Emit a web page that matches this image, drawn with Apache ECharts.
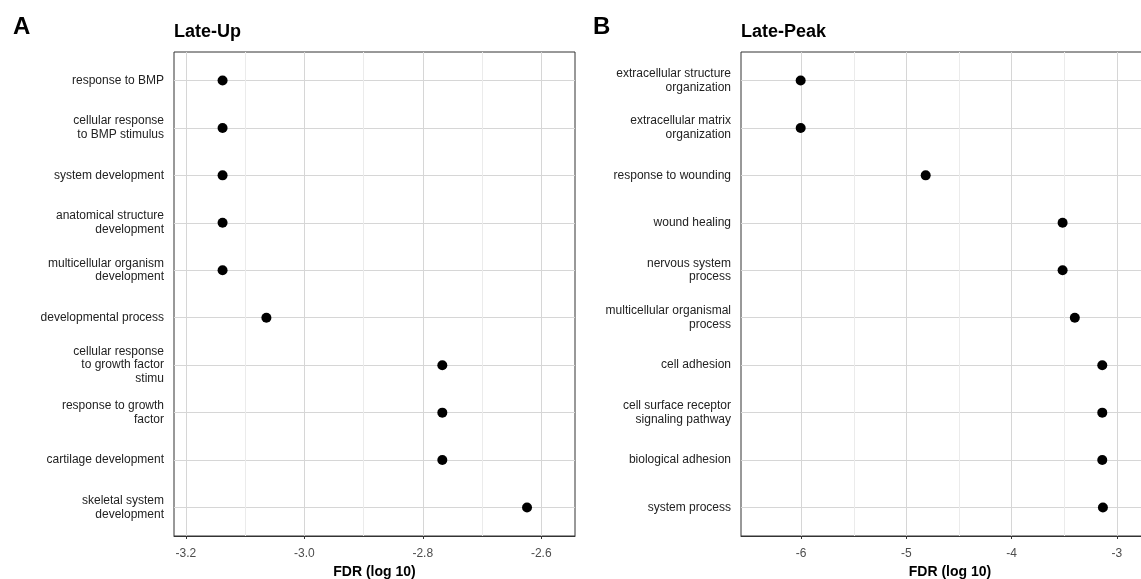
<!DOCTYPE html>
<html>
<head>
<meta charset="utf-8">
<script src="https://cdn.jsdelivr.net/npm/echarts@6/dist/echarts.min.js"></script>
<style>
html,body{margin:0;padding:0;background:#fff;}
#chart{width:1141px;height:579px;}
</style>
</head>
<body>
<div id="chart"></div>
<script>
// ---- data ----
const lateUpTerms = [
  'response to BMP',
  'cellular response\nto BMP stimulus',
  'system development',
  'anatomical structure\ndevelopment',
  'multicellular organism\ndevelopment',
  'developmental process',
  'cellular response\nto growth factor\nstimu',
  'response to growth\nfactor',
  'cartilage development',
  'skeletal system\ndevelopment'
];
const lateUpFDR = [-3.138, -3.138, -3.138, -3.138, -3.138, -3.064, -2.767, -2.767, -2.767, -2.624];

const latePeakTerms = [
  'extracellular structure\norganization',
  'extracellular matrix\norganization',
  'response to wounding',
  'wound healing',
  'nervous system\nprocess',
  'multicellular organismal\nprocess',
  'cell adhesion',
  'cell surface receptor\nsignaling pathway',
  'biological adhesion',
  'system process'
];
const latePeakFDR = [-6.005, -6.005, -4.817, -3.516, -3.516, -3.40, -3.139, -3.139, -3.139, -3.133];

const lateUpTicks = [-3.2, -3.0, -2.8, -2.6];
const lateUpMinor = [-3.1, -2.9, -2.7];
const latePeakTicks = [-6, -5, -4, -3];
const latePeakMinor = [-5.5, -4.5, -3.5];

const rowIdx = lateUpTerms.map((_, i) => i + 1);

// ---- chart ----
const FONT = '"Liberation Sans", Arial, sans-serif';
const chart = echarts.init(document.getElementById('chart'), null, {renderer: 'canvas'});

function xAxes(gridIndex, min, max, ticks, minor, decimals) {
  return [
    {
      type: 'value', gridIndex, min, max,
      name: 'FDR (log 10)', nameLocation: 'middle', nameGap: 27,
      nameTextStyle: {fontFamily: FONT, fontSize: 14, fontWeight: 'bold', color: '#000'},
      axisLine: {show: true, onZero: false, lineStyle: {color: '#333', width: 1}},
      axisTick: {show: true, length: 3, customValues: ticks, lineStyle: {color: '#333'}},
      axisLabel: {customValues: ticks, margin: 12, fontFamily: FONT, fontSize: 12, color: '#4d4d4d',
        formatter: v => decimals ? v.toFixed(decimals) : String(v)},
      splitLine: {show: true, lineStyle: {color: '#d6d6d6', width: 1}}
    },
    {
      type: 'value', gridIndex, min, max, position: 'bottom',
      axisLine: {show: false},
      axisTick: {show: false, customValues: minor},
      axisLabel: {show: false, customValues: minor},
      splitLine: {show: true, lineStyle: {color: '#ebebeb', width: 1}}
    }
  ];
}

function yAxis(gridIndex, terms) {
  return {
    type: 'value', gridIndex, min: 0.4, max: 10.6, inverse: true,
    axisLine: {show: false},
    axisTick: {show: false, customValues: rowIdx},
    axisLabel: {customValues: rowIdx, margin: 10, fontFamily: FONT, fontSize: 12, color: '#222', lineHeight: 13.5,
      align: 'right', formatter: v => terms[Math.round(v) - 1] || ''},
    splitLine: {show: true, lineStyle: {color: '#d6d6d6', width: 1}}
  };
}

const option = {
  backgroundColor: '#fff',
  animation: false,
  title: [
    {text: 'A', left: 8, top: 10, textStyle: {fontFamily: FONT, fontSize: 24, fontWeight: 'bold', color: '#000'}},
    {text: 'Late-Up', left: 169, top: 18, textStyle: {fontFamily: FONT, fontSize: 18, fontWeight: 'bold', color: '#000'}},
    {text: 'B', left: 588, top: 10, textStyle: {fontFamily: FONT, fontSize: 24, fontWeight: 'bold', color: '#000'}},
    {text: 'Late-Peak', left: 736, top: 18, textStyle: {fontFamily: FONT, fontSize: 18, fontWeight: 'bold', color: '#000'}}
  ],
  grid: [
    {left: 174, top: 52, width: 401, height: 484, outerBoundsMode: 'none', containLabel: false,
      show: true, borderColor: '#333', borderWidth: 1, backgroundColor: 'transparent'},
    {left: 741, top: 52, width: 418, height: 484, outerBoundsMode: 'none', containLabel: false,
      show: true, borderColor: '#333', borderWidth: 1, backgroundColor: 'transparent'}
  ],
  xAxis: [
    ...xAxes(0, -3.22, -2.543, lateUpTicks, lateUpMinor, 1),
    ...xAxes(1, -6.572, -2.6, latePeakTicks, latePeakMinor, 0)
  ],
  yAxis: [yAxis(0, lateUpTerms), yAxis(1, latePeakTerms)],
  series: [
    {
      type: 'scatter', xAxisIndex: 0, yAxisIndex: 0, symbolSize: 10,
      itemStyle: {color: '#000', opacity: 1},
      data: lateUpFDR.map((v, i) => [v, i + 1])
    },
    {
      type: 'scatter', xAxisIndex: 2, yAxisIndex: 1, symbolSize: 10,
      itemStyle: {color: '#000', opacity: 1},
      data: latePeakFDR.map((v, i) => [v, i + 1])
    }
  ]
};
chart.setOption(option);
</script>
</body>
</html>
